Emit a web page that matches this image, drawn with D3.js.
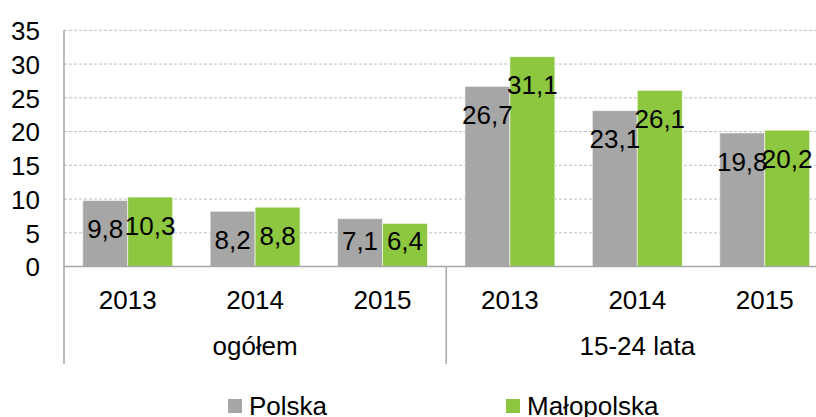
<!DOCTYPE html>
<html>
<head>
<meta charset="utf-8">
<script src="https://cdn.jsdelivr.net/npm/d3@7"></script>
<style>
  body { margin: 0; background: #fff; }
  svg { display: block; font-family: "Liberation Sans", Arial, sans-serif; }
</style>
</head>
<body>
<div id="chart"></div>
<script>
// ----------------------------
// DATA
// ----------------------------
const groups = ["ogółem", "15-24 lata"];
const years = ["2013", "2014", "2015"];
const seriesNames = ["Polska", "Małopolska"];
const polska = [9.8, 8.2, 7.1, 26.7, 23.1, 19.8];
const malopolska = [10.3, 8.8, 6.4, 31.1, 26.1, 20.2];
const yTicks = [0, 5, 10, 15, 20, 25, 30, 35];

function drawChart() {
  const width = 816;
  const height = 417;
  const colors = ["#A6A6A6", "#8DC63F"];

  const left = 64;
  const step = 127.4;
  const yZero = 266.6;
  const yTop = 30.3;
  const catBottom = 364;

  // one key per (group, year) pair
  const keys = groups.flatMap(g => years.map(yr => g + "|" + yr));
  const rows = keys.map((k, i) => ({ key: k, values: [polska[i], malopolska[i]] }));

  const svg = d3.select("#chart")
    .append("svg")
    .attr("width", width)
    .attr("height", height);

  // ----------------------------
  // SCALES
  // ----------------------------
  const x = d3.scaleBand()
    .domain(keys)
    .range([left, left + step * keys.length])
    .paddingInner(0.294)
    .paddingOuter(0.147);

  const xSeries = d3.scaleBand()
    .domain(seriesNames)
    .range([0, x.bandwidth()]);

  const xGroup = d3.scaleBand()
    .domain(groups)
    .range([left, left + step * keys.length]);

  const y = d3.scaleLinear()
    .domain([0, 35])
    .range([yZero, yTop]);

  // ----------------------------
  // GRIDLINES
  // ----------------------------
  svg.append("g")
    .selectAll("line")
    .data(yTicks.filter(t => t > 0))
    .join("line")
    .attr("x1", left)
    .attr("x2", width)
    .attr("y1", d => y(d))
    .attr("y2", d => y(d))
    .attr("stroke", "#BFBFBF")
    .attr("stroke-width", 1)
    .attr("stroke-dasharray", "3,2");

  // ----------------------------
  // BARS
  // ----------------------------
  const groupsG = svg.append("g")
    .selectAll("g")
    .data(rows)
    .join("g")
    .attr("transform", d => `translate(${x(d.key)},0)`);

  groupsG.selectAll("rect")
    .data(d => d.values.map((v, i) => ({ name: seriesNames[i], value: v, i })))
    .join("rect")
    .attr("x", d => xSeries(d.name))
    .attr("y", d => y(d.value))
    .attr("width", xSeries.bandwidth())
    .attr("height", d => y(0) - y(d.value))
    .attr("fill", d => colors[d.i])
    .attr("stroke", "#fff")
    .attr("stroke-opacity", 0.6)
    .attr("stroke-width", 1);

  // labels sit at the inside end, but never below the base
  groupsG.selectAll("text")
    .data(d => d.values.map((v, i) => ({ name: seriesNames[i], value: v, i })))
    .join("text")
    .attr("x", d => xSeries(d.name) + xSeries.bandwidth() / 2)
    .attr("y", d => Math.min(y(d.value) + 28.5, y(0) - 26) + 9.3)
    .attr("text-anchor", "middle")
    .attr("font-size", "26px")
    .attr("fill", "#000")
    .text(d => String(d.value).replace(".", ","));

  // ----------------------------
  // Y-AXIS
  // ----------------------------
  const yAxis = svg.append("g")
    .attr("transform", `translate(${left},0)`)
    .call(d3.axisLeft(y).tickValues(yTicks).tickSize(0).tickPadding(24));

  yAxis.select(".domain").remove();
  yAxis.selectAll("text")
    .attr("font-size", "26px")
    .attr("font-family", "Liberation Sans, Arial, sans-serif")
    .attr("fill", "#000")
    .attr("dy", "0.36em");

  // ----------------------------
  // X-AXIS (years + groups)
  // ----------------------------
  const xAxis = svg.append("g")
    .attr("transform", `translate(0,${yZero})`)
    .call(d3.axisBottom(x).tickSize(0).tickPadding(23.5).tickFormat(d => d.split("|")[1]));

  xAxis.select(".domain").remove();
  xAxis.selectAll("text")
    .attr("font-size", "26px")
    .attr("font-family", "Liberation Sans, Arial, sans-serif")
    .attr("fill", "#000");

  const gAxis = svg.append("g")
    .attr("transform", `translate(0,${yZero})`)
    .call(d3.axisBottom(xGroup).tickSize(0).tickPadding(70));

  gAxis.select(".domain").remove();
  gAxis.selectAll("text")
    .attr("font-size", "26px")
    .attr("font-family", "Liberation Sans, Arial, sans-serif")
    .attr("fill", "#000");

  // base line and separators
  svg.append("line")
    .attr("x1", left)
    .attr("x2", width)
    .attr("y1", y(0))
    .attr("y2", y(0))
    .attr("stroke", "#A6A6A6")
    .attr("stroke-width", 1.5);

  svg.append("line")
    .attr("x1", left)
    .attr("x2", left)
    .attr("y1", yTop)
    .attr("y2", catBottom)
    .attr("stroke", "#A6A6A6")
    .attr("stroke-width", 1.5);

  svg.append("g")
    .selectAll("line")
    .data(groups.slice(1))
    .join("line")
    .attr("x1", d => xGroup(d))
    .attr("x2", d => xGroup(d))
    .attr("y1", y(0))
    .attr("y2", catBottom)
    .attr("stroke", "#A6A6A6")
    .attr("stroke-width", 1.5);

  // ----------------------------
  // LEGEND
  // ----------------------------
  const legendX = [228, 506];

  const legendItems = svg.append("g")
    .selectAll("g")
    .data(seriesNames)
    .join("g")
    .attr("transform", (_, i) => `translate(${legendX[i]},399)`);

  legendItems.append("rect")
    .attr("width", 14)
    .attr("height", 14)
    .attr("fill", (_, i) => colors[i]);

  legendItems.append("text")
    .attr("x", 21)
    .attr("y", 15.5)
    .attr("font-size", "26px")
    .attr("fill", "#000")
    .text(d => d);
}

drawChart();
</script>
</body>
</html>
